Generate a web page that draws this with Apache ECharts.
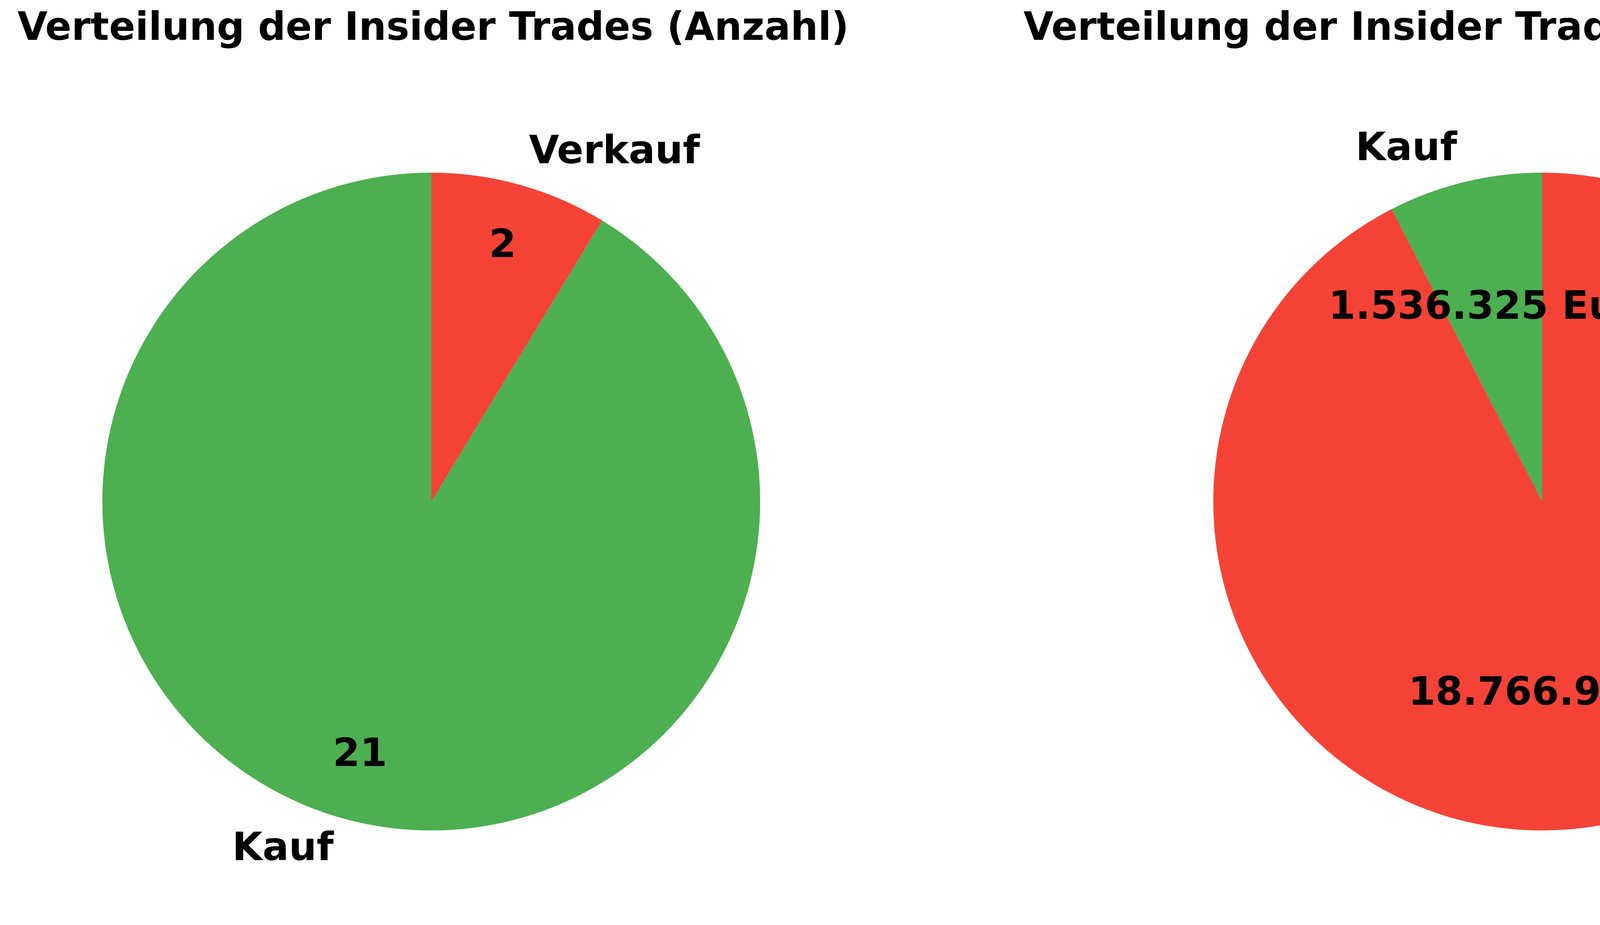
<!DOCTYPE html>
<html>
<head>
<meta charset="utf-8">
<script src="https://cdn.jsdelivr.net/npm/echarts@6/dist/echarts.min.js"></script>
<style>
html,body{margin:0;padding:0;background:#fff;}
#main{width:5326px;height:2368px;}
</style>
</head>
<body>
<div id="main"></div>
<script>
// Kategorien und Werte
var labels = ['Kauf', 'Verkauf'];
var countValues = [21, 2];
var volumeValues = [1536325, 18766905];
var colors = ['#4CAF50', '#F44336'];
var titles = ['Verteilung der Insider Trades (Anzahl)', 'Verteilung der Insider Trades (Volumen in Euro)'];

var R = 842;
var centers = [[1104, 1284], [3948, 1284]];
var font = 'DejaVu Sans';

function fmtEuro(v){
    return String(v).replace(/\B(?=(\d{3})+(?!\d))/g, '.') + ' Euro';
}

function buildData(vals, transparent){
    var d = [];
    for (var i = 0; i < labels.length; i++) {
        d.push({name: labels[i], value: vals[i], itemStyle: {color: transparent ? 'rgba(0,0,0,0)' : colors[i]}});
    }
    return d;
}

// eine Torte: Flächen + Namen aussen, dazu transparente Serie für die Werte
function pieSeries(center, vals, pctDist, fmt){
    return [
        {
            type: 'pie',
            center: center,
            radius: [0, R],
            startAngle: 90,
            clockwise: false,
            avoidLabelOverlap: false,
            silent: true,
            data: buildData(vals, false),
            label: {
                show: true,
                position: 'outside',
                distanceToLabelLine: 0,
                fontFamily: font,
                fontWeight: 'bold',
                fontSize: 100,
                color: '#000',
                formatter: '{b}'
            },
            labelLine: {show: false, length: R * 0.1, length2: 0}
        },
        {
            type: 'pie',
            center: center,
            radius: [R * (2 * pctDist - 1), R],
            startAngle: 90,
            clockwise: false,
            avoidLabelOverlap: false,
            silent: true,
            data: buildData(vals, true),
            label: {
                show: true,
                position: 'inside',
                fontFamily: font,
                fontWeight: 'bold',
                fontSize: 100,
                color: '#000',
                formatter: function(p){ return fmt(p.value); }
            },
            labelLine: {show: false}
        }
    ];
}

var chart = echarts.init(document.getElementById('main'));
chart.setOption({
    backgroundColor: '#fff',
    animation: false,
    title: [
        {text: titles[0], left: centers[0][0], top: 22, textAlign: 'center',
         textStyle: {fontFamily: font, fontWeight: 'bold', fontSize: 99, color: '#000'}},
        {text: titles[1], left: centers[1][0], top: 22, textAlign: 'center',
         textStyle: {fontFamily: font, fontWeight: 'bold', fontSize: 99, color: '#000'}}
    ],
    series: pieSeries(centers[0], countValues, 0.8, function(v){ return String(v); })
        .concat(pieSeries(centers[1], volumeValues, 0.6, fmtEuro))
});
</script>
</body>
</html>
